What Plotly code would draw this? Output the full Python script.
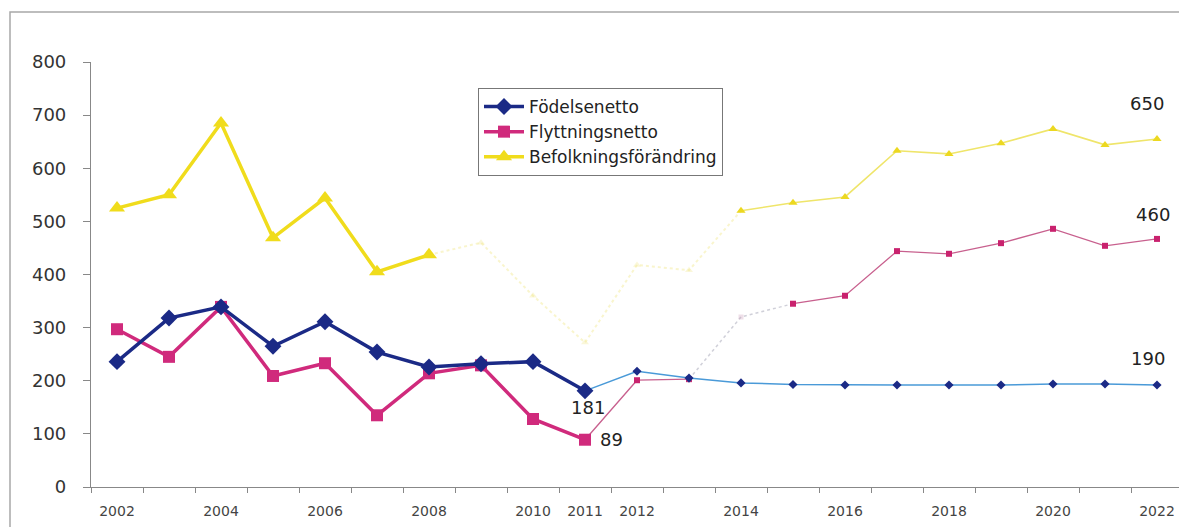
import plotly.graph_objects as go

years = list(range(2002, 2023))
fodelsenetto = [236, 318, 339, 265, 311, 254, 226, 232, 236, 181, 218, 205, 196,
                193, 192, 192, 192, 192, 194, 194, 192]
flyttningsnetto = [297, 245, 339, 209, 233, 135, 214, 229, 128, 89, 201, 203, 320,
                   345, 360, 444, 439, 459, 486, 454, 467]
befolkning = [525, 550, 685, 469, 544, 405, 437, 460, 360, 272, 418, 408, 520,
              535, 546, 633, 627, 647, 674, 644, 655]
xtick_years = [2002, 2004, 2006, 2008, 2010, 2011, 2012, 2014, 2016, 2018, 2020, 2022]
ytick_vals = [0, 100, 200, 300, 400, 500, 600, 700, 800]
end_labels = {"fod": 190, "fly": 460, "bef": 650}

NAVY = "#1b2a86"
PINK = "#d02a7c"
YEL = "#f0dc1c"
FONT = "Liberation Sans, Arial, sans-serif"
WIDE = "DejaVu Sans, Verdana, sans-serif"

fig = go.Figure()


def seg(y, i0, i1, **kw):
    return dict(x=years[i0:i1 + 1], y=y[i0:i1 + 1], mode="lines+markers", **kw)


# Yellow: Befolkningsförändring (prognosis parts)
fig.add_trace(go.Scatter(**seg(befolkning, 6, 12), showlegend=False, hoverinfo="skip",
                         line=dict(color="rgba(240,230,130,0.4)", width=2, dash="dot"),
                         marker=dict(symbol="triangle-up", size=7, color="rgba(240,230,130,0.3)")))
fig.add_trace(go.Scatter(**seg(befolkning, 12, 20), showlegend=False,
                         line=dict(color="#efe56a", width=1.6),
                         marker=dict(symbol="triangle-up", size=8, color="#ecd820")))
# Pink: Flyttningsnetto (prognosis parts)
fig.add_trace(go.Scatter(**seg(flyttningsnetto, 9, 11), showlegend=False,
                         line=dict(color="#c8608e", width=1.3),
                         marker=dict(symbol="square", size=6, color="#c9226e")))
fig.add_trace(go.Scatter(**seg(flyttningsnetto, 11, 13), showlegend=False, hoverinfo="skip",
                         line=dict(color="rgba(150,150,170,0.45)", width=1.5, dash="dot"),
                         marker=dict(symbol="square", size=5, color="rgba(200,150,180,0.3)")))
fig.add_trace(go.Scatter(**seg(flyttningsnetto, 13, 20), showlegend=False,
                         line=dict(color="#c8608e", width=1.3),
                         marker=dict(symbol="square", size=6, color="#c9226e")))
# Blue: Födelsenetto (prognosis)
fig.add_trace(go.Scatter(**seg(fodelsenetto, 9, 20), showlegend=False,
                         line=dict(color="#4a9ad8", width=1.5),
                         marker=dict(symbol="diamond", size=7, color=NAVY)))

# Historical (thick) traces with legend
fig.add_trace(go.Scatter(**seg(befolkning, 0, 6), name="Befolkningsförändring",
                         line=dict(color=YEL, width=3.5),
                         marker=dict(symbol="triangle-up", size=14, color=YEL), legendrank=3))
fig.add_trace(go.Scatter(**seg(flyttningsnetto, 0, 9), name="Flyttningsnetto",
                         line=dict(color=PINK, width=3.5),
                         marker=dict(symbol="square", size=12, color=PINK), legendrank=2))
fig.add_trace(go.Scatter(**seg(fodelsenetto, 0, 9), name="Födelsenetto",
                         line=dict(color=NAVY, width=3.5),
                         marker=dict(symbol="diamond", size=13, color=NAVY), legendrank=1))

ann_font = dict(family=WIDE, size=18, color="#222")
annotations = [
    dict(x=2011, y=fodelsenetto[9], text=str(fodelsenetto[9]), showarrow=False,
         yshift=-17, xshift=3, font=ann_font),
    dict(x=2011, y=flyttningsnetto[9], text=str(flyttningsnetto[9]), showarrow=False,
         xshift=26, font=ann_font),
    dict(x=2022, y=befolkning[20], text=str(end_labels["bef"]), showarrow=False,
         yshift=36, xshift=-10, font=ann_font),
    dict(x=2022, y=flyttningsnetto[20], text=str(end_labels["fly"]), showarrow=False,
         yshift=24, xshift=-4, font=ann_font),
    dict(x=2022, y=fodelsenetto[20], text=str(end_labels["fod"]), showarrow=False,
         yshift=27, xshift=-9, font=ann_font),
]

# body margin removed via post_script, so page pixels == figure pixels
W, H = 1179, 527
L, T, B, R = 91, 62, 40, 0
pw, ph = W - L - R, H - T - B
bottom_page = 487


def px_x(page_x):
    return (page_x - L) / pw


def px_y(page_y):
    return (bottom_page - page_y) / ph


fig.update_layout(
    width=W, height=H,
    margin=dict(l=L, r=R, t=T, b=B),
    paper_bgcolor="white", plot_bgcolor="white",
    font=dict(family=FONT, color="#222"),
    annotations=annotations,
    legend=dict(x=px_x(478), y=px_y(88), xanchor="left", yanchor="top",
                bordercolor="#777", borderwidth=1, bgcolor="white",
                font=dict(family=WIDE, size=17, color="#222"),
                itemwidth=40, traceorder="normal"),
    shapes=[dict(type="rect", xref="paper", yref="paper",
                 x0=px_x(10), x1=1.2, y0=-0.3, y1=px_y(12),
                 line=dict(color="#a8a8a8", width=1.5), layer="below")],
    xaxis=dict(range=[2001.5, 2001.5 + pw / 52.0], tickvals=xtick_years,
               ticktext=[str(v) for v in xtick_years], showgrid=False, zeroline=False,
               showline=True, linecolor="#888", linewidth=1.2, ticks="",
               tickfont=dict(family=WIDE, size=14, color="#444"), ticklabelstandoff=11,
               minor=dict(dtick=1, tick0=2001.5, ticks="outside", ticklen=5,
                          tickcolor="#888", showgrid=False)),
    yaxis=dict(range=[0, 800], tickvals=ytick_vals, showgrid=False, zeroline=False,
               showline=True, linecolor="#888", linewidth=1.2, ticks="outside",
               ticklen=7, tickcolor="#888", ticklabelstandoff=13,
               tickfont=dict(family=WIDE, size=18, color="#333")),
)

fig.write_html("out.html",
               config={"displayModeBar": False},
               post_script="document.body.style.margin='0px';"
                           "document.body.style.overflow='hidden';")
